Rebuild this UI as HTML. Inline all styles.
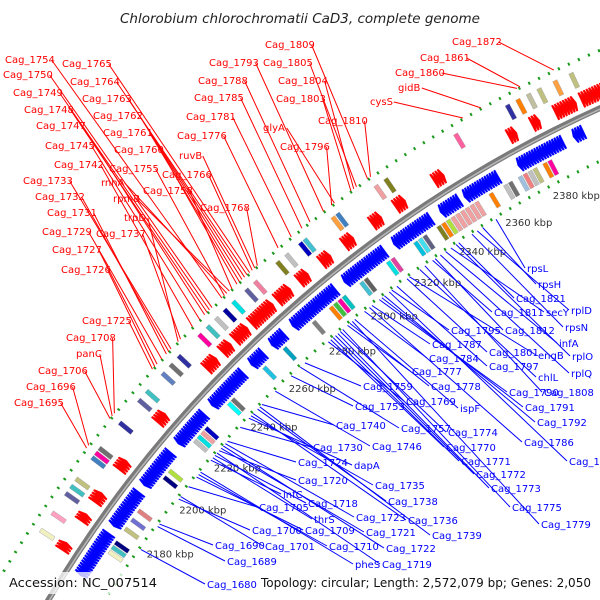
<!DOCTYPE html>
<html><head><meta charset="utf-8"><style>
html,body{margin:0;padding:0;background:#fff;overflow:hidden;}
svg{display:block;font-family:"DejaVu Sans","Liberation Sans",sans-serif;}
</style></head><body>
<svg id="map" width="600" height="600" viewBox="0 0 600 600" xmlns="http://www.w3.org/2000/svg">
<text x="300" y="23" text-anchor="middle" font-size="13.5" font-style="italic" fill="#222">Chlorobium chlorochromatii CaD3, complete genome</text>
<g id="rings"></g><g id="genes"></g><g id="labels"></g>
<rect x="4" y="572" width="156" height="22" fill="#fff" opacity="0.75"/>
<text x="9" y="587" font-size="12" fill="#111" textLength="148" lengthAdjust="spacingAndGlyphs">Accession: NC_007514</text>
<text x="261" y="587" font-size="12" fill="#111" textLength="330" lengthAdjust="spacingAndGlyphs">Topology: circular; Length: 2,572,079 bp; Genes: 2,050</text>
</svg>
<script>
const tickKbp=[2180,2200,2220,2240,2260,2280,2300,2320,2340,2360,2380];
const fwdClusters=[[2164,2167],[2176,2179],[2184,2188],[2198,2202],[2219,2223],[2244,2249],[2252,2256],[2258,2264],[2266,2276],[2278,2284],[2288,2292],[2298,2302],[2308,2312],[2320,2324],[2330,2334],[2346,2350],[2376,2379],[2385,2388],[2394,2402],[2404,2414]];
const revClusters=[[2160,2178],[2181,2196],[2199,2214],[2218,2232],[2236,2252],[2256,2262],[2266,2272],[2276,2296],[2300,2318],[2322,2338],[2342,2350],[2352,2366],[2374,2392],[2396,2400]];
const outerBoxKbp=[2165,2172,2180,2183,2186,2195,2197,2199,2210,2220,2224,2232,2236,2240,2250,2254,2258,2262,2266,2272,2276,2286,2290,2296,2298,2310,2312,2328,2332,2360,2380,2384,2388,2392,2398,2404];
const outerBoxColor=['#f0f0c0','#ffa0c0','#6060a0','#40c0c0','#c0c080','#4080c0','#ff00a0','#707070','#3030a0','#6060a0','#40c0c0','#6080c0','#707070','#3030a0','#ff00a0','#40c0c0','#c0c0c0','#0000a0','#00e0e0','#6060a0','#f080a0','#808020','#c0c0c0','#0000c0','#40c0d0','#ffa040','#4080c0','#f0a0a0','#808020','#ff60a0','#3030a0','#ff8000','#c0c0a0','#c0c080','#ffa040','#c0c080'];
const innerBoxKbp=[2172,2174,2176,2182,2186,2190,2205,2208,2222,2224,2226,2228,2240,2242,2258,2268,2282,2290,2292,2294,2296,2304,2306,2316,2318,2328,2330,2332,2338,2340,2342,2344,2346,2348,2350,2352,2354,2360,2366,2368,2372,2374,2376,2378,2382,2384];
const innerBoxColor=['#f0f0c0','#40c0c0','#000080','#c0c080','#7070d0','#e08080','#000080','#b0e040','#c0c0c0','#00e0e0','#f0a0a0','#0000c0','#00ffff','#707070','#20c0e0','#00a0c0','#808080','#ff8000','#40c040','#ff00a0','#00c0c0','#40c0d0','#606060','#00e0e0','#e040a0','#00c0e0','#40e0f0','#606080','#808020','#ff8000','#b0e040','#f0a0a0','#f0a0a0','#f0a0a0','#f0a0a0','#f0a0a0','#f0a0a0','#ff8000','#c0c0c0','#707070','#a0c0e0','#f08080','#c0c0c0','#c0c080','#ff8000','#ff00a0'];
const redNames=['Cag_1754','Cag_1765','Cag_1750','Cag_1764','Cag_1749','Cag_1763','Cag_1748','Cag_1762','Cag_1747','Cag_1761','Cag_1745','Cag_1760','Cag_1742','Cag_1755','rnhA','Cag_1733','Cag_1758','Cag_1766','ruvB','rpmB','Cag_1732','Cag_1731','trpD','Cag_1729','Cag_1737','Cag_1727','Cag_1726','Cag_1768','Cag_1776','Cag_1781','Cag_1785','Cag_1788','Cag_1793','glyA','Cag_1809','Cag_1805','Cag_1804','Cag_1803','Cag_1796','Cag_1810','cysS','gidB','Cag_1860','Cag_1861','Cag_1872','Cag_1725','Cag_1708','panC','Cag_1706','Cag_1696','Cag_1695'];
const redGeneNo=[1754,1765,1750,1764,1749,1763,1748,1762,1747,1761,1745,1760,1742,1755,1756,1733,1758,1766,1767,1757,1732,1731,1736,1729,1737,1727,1726,1768,1776,1781,1785,1788,1793,1797,1809,1805,1804,1803,1796,1810,1842,1848,1860,1861,1872,1725,1708,1707,1706,1696,1695];
const redX=[5,62,3,70,13,82,24,93,36,103,45,114,54,109,101,23,143,162,179,113,35,47,124,42,96,52,61,200,177,186,194,198,209,263,265,263,278,276,280,318,370,398,395,420,452,82,66,76,38,26,14];
const redY=[59,63,74,81,92,98,109,115,125,132,145,149,164,168,182,180,190,174,155,198,196,212,217,231,233,249,269,207,135,116,97,80,62,127,44,62,80,98,146,120,101,87,72,57,41,320,337,353,370,386,402];
const blueNames=['rpsL','rpsH','Cag_1821','rplD','secY','Cag_1811','rpsN','Cag_1812','Cag_1795','infA','Cag_1787','Cag_1801','engB','rplO','Cag_1784','Cag_1797','chlL','rplQ','Cag_1777','Cag_1778','Cag_1808','Cag_1759','Cag_1790','Cag_1753','ispF','Cag_1791','Cag_1769','Cag_1757','Cag_1792','Cag_1740','Cag_1774','Cag_1786','Cag_1746','Cag_1770','Cag_1730','Cag_1794','Cag_1771','Cag_1724','dapA','Cag_1772','Cag_1720','Cag_1735','Cag_1773','infC','Cag_1738','Cag_1718','Cag_1775','Cag_1705','thrS','Cag_1736','Cag_1779','Cag_1723','Cag_1700','Cag_1709','Cag_1721','Cag_1739','Cag_1690','Cag_1701','Cag_1710','Cag_1722','Cag_1689','pheS','Cag_1719','Cag_1680'];
const blueGeneNo=[1835,1830,1821,1828,1818,1811,1826,1812,1795,1816,1787,1801,1802,1820,1784,1797,1806,1814,1777,1778,1808,1759,1790,1753,1780,1791,1769,1757,1792,1740,1774,1786,1746,1770,1730,1794,1771,1724,1734,1772,1720,1735,1773,1716,1738,1718,1775,1705,1717,1736,1779,1723,1700,1709,1721,1739,1690,1701,1710,1722,1689,1711,1719,1680];
const blueX=[527,538,516,571,546,494,565,505,451,559,432,489,538,572,429,489,538,571,412,431,544,363,509,355,460,525,406,401,537,336,448,524,372,446,313,569,461,298,354,476,298,375,491,283,388,308,512,259,314,408,541,356,252,305,366,432,215,265,329,386,227,355,382,207];
const blueY=[268,284,298,310,312,312,327,330,330,343,344,352,355,356,358,366,377,373,371,386,392,386,392,406,408,407,401,428,422,425,432,442,446,447,447,461,461,462,465,474,480,485,488,494,501,503,507,507,519,520,524,517,530,530,532,535,545,546,546,548,561,564,564,584];

const CX=1110.5,CY=1236,NS='http://www.w3.org/2000/svg';
function ang(k){return (215.3+(k-2180)*0.1326)*Math.PI/180;}
function pt(r,k){const a=ang(k);return [CX+r*Math.cos(a),CY+r*Math.sin(a)];}
function geneNoToKbp(n){return 2180+(n-1680)*1.146;}
function arcPath(r,k1,k2){const p=pt(r,k1),q=pt(r,k2);return `M${p[0]},${p[1]} A${r},${r} 0 0 1 ${q[0]},${q[1]}`;}
function el(tag,attrs,parent){const e=document.createElementNS(NS,tag);for(const k in attrs)e.setAttribute(k,attrs[k]);parent.appendChild(e);return e;}
const rings=document.getElementById('rings'),genes=document.getElementById('genes'),labels=document.getElementById('labels');

const o=el('path',{d:arcPath(1291,2140,2430),fill:'none',stroke:'#1a9a1a','stroke-width':3,'stroke-dasharray':'2 9'},rings);


const i=el('path',{d:arcPath(1190,2140,2430),fill:'none',stroke:'#1a9a1a','stroke-width':3,'stroke-dasharray':'2 9'},rings);


const bb=el('path',{d:arcPath(1238,2140,2430),fill:'none',stroke:'#7a7a7a','stroke-width':6},rings);


const bb2=el('path',{d:arcPath(1237,2140,2430),fill:'none',stroke:'#b8b8b8','stroke-width':1.5},rings);



tickKbp.forEach(k=>{const p=pt(1181,k);
 const t=el('text',{x:p[0],y:p[1]+4,'font-size':10,fill:'#333'},rings);
 
 
 t.textContent=k+' kbp';});

function arrow(k1,k2,r1,r2,fwd,color,name){
 const len=k2-k1,rm=(r1+r2)/2;let pts;
 if(fwd){const kh=k2-len*0.55;pts=[pt(r1,k1),pt(r2,k1),pt(r2,kh),pt(rm,k2),pt(r1,kh)];}
 else{const kh=k1+len*0.55;pts=[pt(r1,k2),pt(r2,k2),pt(r2,kh),pt(rm,k1),pt(r1,kh)];}
 const p=el('polygon',{points:pts.map(a=>a.join(',')).join(' '),fill:color,stroke:color,'stroke-width':0.4},genes);
 
 }
const STEP=1.25;
fwdClusters.forEach(c=>{for(let k=c[0];k+STEP*0.8<=c[1]+0.01;k+=STEP*0.8)arrow(k,k+STEP,1245,1261,true,'#ff0000','forward-gene');});
revClusters.forEach(c=>{for(let k=c[0];k+STEP*0.8<=c[1]+0.01;k+=STEP*0.8)arrow(k,k+STEP,1216,1231,false,'#0000ff','reverse-gene');});
function box(k,r1,r2,color,name){const w=1.6,pts=[pt(r1,k),pt(r2,k),pt(r2,k+w),pt(r1,k+w)];
 const p=el('polygon',{points:pts.map(a=>a.join(',')).join(' '),fill:color,stroke:'#999','stroke-width':0.4},genes);
 
 }
outerBoxKbp.forEach((k,j)=>box(k,1266,1282,outerBoxColor[j],'forward-cog-box'));
innerBoxKbp.forEach((k,j)=>box(k,1197,1213,innerBoxColor[j],'reverse-cog-box'));

redNames.forEach((n,j)=>{const w=n.length*5.7,s=[redX[j]+w+1,redY[j]+1],e=pt(1292,geneNoToKbp(redGeneNo[j]));
 const l=el('line',{x1:s[0],y1:s[1],x2:e[0],y2:e[1],stroke:'#ff0000','stroke-width':1},labels);
 
 
 const t=el('text',{x:redX[j],y:redY[j]+4,'font-size':10,fill:'#ff0000'},labels);
 
 
 t.textContent=n;});
blueNames.forEach((n,j)=>{const s=pt(1188,geneNoToKbp(blueGeneNo[j])),e=[blueX[j]-2,blueY[j]];
 const l=el('line',{x1:s[0],y1:s[1],x2:e[0],y2:e[1],stroke:'#0000ff','stroke-width':1},labels);
 
 
 const t=el('text',{x:blueX[j],y:blueY[j]+4,'font-size':10,fill:'#0000ff'},labels);
 
 
 t.textContent=n;});
</script>
</body></html>
